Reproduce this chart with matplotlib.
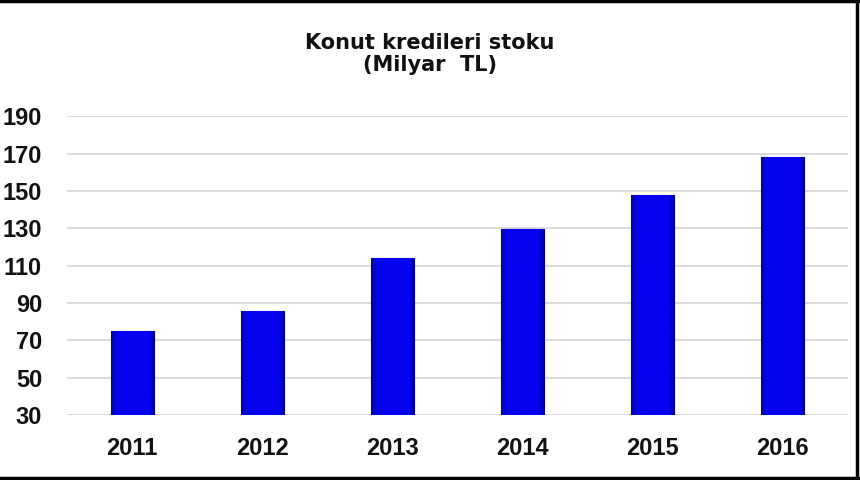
import matplotlib
matplotlib.use("Agg")
import matplotlib.pyplot as plt
from matplotlib.lines import Line2D
from matplotlib.colors import LinearSegmentedColormap
import numpy as np

years = ["2011", "2012", "2013", "2014", "2015", "2016"]
stock = [75, 86, 114, 129.5, 148, 168]
yticks = [30, 50, 70, 90, 110, 130, 150, 170, 190]

fig = plt.figure(figsize=(8.6, 4.8), dpi=100)
ax = fig.add_axes([0.078, 0.135, 0.908, 0.623])

x = np.arange(len(years))
bars = ax.bar(x, [v - 30 for v in stock], bottom=30, width=0.33,
              color="#0000e6", edgecolor="#000060", linewidth=0.8, zorder=3)

# slight shading toward the bar edges
grad = np.concatenate([np.linspace(0, 1, 8), np.ones(40), np.linspace(1, 0, 8)])
grad = grad[np.newaxis, :]
cmap = LinearSegmentedColormap.from_list("bb", ["#0000b0", "#0404f0"])
for b in bars:
    bx, by, bw, bh = b.get_x(), b.get_y(), b.get_width(), b.get_height()
    im = ax.imshow(grad, cmap=cmap, aspect="auto", zorder=3.5,
                   extent=[bx, bx + bw, by, by + bh])
    im.set_clip_path(b)

ax.set_xlim(-0.5, len(years) - 0.5)
ax.set_ylim(30, 190)
ax.set_yticks(yticks)
ax.set_xticks(x)
ax.set_xticklabels(years)
ax.grid(axis="y", color="#d4d4d4", linewidth=1.2, zorder=0)
ax.set_axisbelow(True)
for s in ax.spines.values():
    s.set_visible(False)
ax.tick_params(length=0)
ax.tick_params(axis="y", pad=18)
ax.tick_params(axis="x", pad=16)
for lab in ax.get_xticklabels() + ax.get_yticklabels():
    lab.set_fontfamily("Liberation Sans")
    lab.set_fontweight("bold")
    lab.set_fontsize(17)
    lab.set_color("#111111")

fig.text(0.5, 0.887, "Konut kredileri stoku\n(Milyar  TL)", ha="center", va="center",
         fontsize=15, fontweight="bold", color="#111111", linespacing=1.15)

# frame lines on top, right, bottom
fig.add_artist(Line2D([0, 1], [0.997, 0.997], color="black", lw=2.5))
fig.add_artist(Line2D([0, 1], [0.004, 0.004], color="black", lw=2.5))
fig.add_artist(Line2D([0.997, 0.997], [0, 1], color="black", lw=2.5))

fig.savefig("out.png", dpi=100)
